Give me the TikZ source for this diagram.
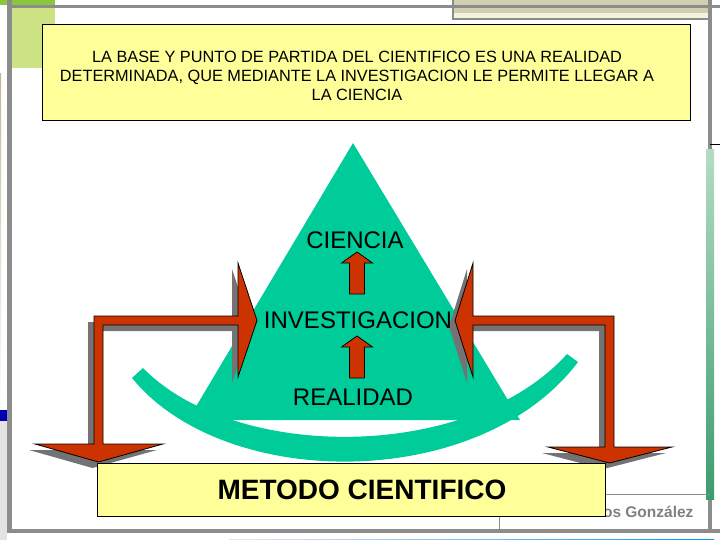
\documentclass[tikz,border=0pt]{standalone}
\usepackage{fontspec}
\setmainfont{Liberation Sans}
\usepackage{xcolor}
\usetikzlibrary{positioning}

\definecolor{pyrgreen}{HTML}{00CC99}
\definecolor{arrowred}{HTML}{CC3300}
\definecolor{notey}{HTML}{FFFF99}
\definecolor{framegray}{HTML}{8C8C8C}
\definecolor{leafgreen}{HTML}{8CC63F}
\definecolor{palegreen}{HTML}{CCE283}
\definecolor{tanband}{HTML}{C4B294}
\definecolor{creamtop}{HTML}{D2CEB0}
\definecolor{cream}{HTML}{F4F4DC}
\definecolor{stripetop}{HTML}{B4DCC4}
\definecolor{stripebot}{HTML}{3C9C6C}

% paths of the two bent block arrows
\newcommand{\bentleft}{(257,320.5) -- (238,377) -- (238,325) -- (103,325) -- (103,444) -- (163,444) -- (98.5,462) -- (35,444) -- (94,444) -- (94,316) -- (238,316) -- (238,263) -- cycle}
\newcommand{\bentright}{(455,320.5) -- (473,263) -- (473,316) -- (614,316) -- (614,447) -- (672,447) -- (609.5,463) -- (548,447) -- (605,447) -- (605,325) -- (473,325) -- (473,377) -- cycle}
% small upward block arrow: #1 = x of axis, #2 = y of bottom
\newcommand{\blockup}[2]{(#1-7.5,#2) -- (#1+7.5,#2) -- (#1+7.5,#2-31) -- (#1+15.5,#2-31) -- (#1,#2-42) -- (#1-15.5,#2-31) -- (#1-7.5,#2-31) -- cycle}

\begin{document}
\begin{tikzpicture}[x=1pt, y=-1pt]
	\tikzstyle{note} = [draw, fill=notey, inner sep=0pt]
	\tikzstyle{word} = [font=\fontsize{24}{24}\selectfont, inner sep=1pt]
	\tikzstyle{bent} = [draw, fill=arrowred, line width=0.8pt, line join=miter]
	\tikzstyle{shade} = [fill=gray!90!black, shift={(-6,6)}]
	\useasboundingbox (0,0) rectangle (720,540);

	% slide frame
	\fill[leafgreen] (0,0) rectangle (55,5);
	\fill[palegreen] (12,8) rectangle (55,68);
	\shade[top color=tanband, bottom color=white] (0,68) rectangle (7,405);
	\fill[blue!70!black] (0,410) rectangle (7,421);
	\fill[gray!22] (0,421) rectangle (7,540);
	\fill[creamtop] (453,0) rectangle (710,13);
	\fill[cream] (453,13) rectangle (710,19);
	\draw[framegray, line width=1.5pt] (453,0) |- (710,19);
	\fill[framegray] (12,5) rectangle (720,8);
	\fill[framegray] (7,0) rectangle (12,533);
	\fill[framegray] (708,0) rectangle (712,533);
	\shade[top color=stripetop, bottom color=stripebot] (712,144) rectangle (720,493);
	\draw[black] (710,144) -- (720,144);
	\fill[framegray] (7,529) rectangle (720,533);
	\shade[left color=violet!12, right color=cyan!60!blue] (235,533) rectangle (720,540);
	\draw[framegray, line width=1pt] (499,530) |- (710,494);
	\node[text=gray, font=\fontsize{15.5}{15.5}\selectfont\bfseries, anchor=base east] (firma) at (697,517) {os González};

	% triangle and arc
	\fill[pyrgreen] (353,143) -- (520,420) -- (188,420) -- cycle;
	\fill[pyrgreen] (132,378) .. controls (225,492) and (480,492) .. (578,362)
		-- (567,354) .. controls (470,462) and (235,462) .. (143,368) -- cycle;

	% bent arrows with shadow
	\fill[shade] \bentleft;
	\fill[shade] \bentright;
	\draw[bent] \bentleft;
	\draw[bent] \bentright;

	% labels
	\node[word] (ciencia) at (355,240) {CIENCIA};
	\node[word] (investigacion) at (358,320) {INVESTIGACION};
	\node[word] (realidad) at (353,397) {REALIDAD};
	\draw[bent] \blockup{357}{294};
	\draw[bent] \blockup{357}{378};

	% boxes
	\node[note, minimum width=648pt, minimum height=96pt] (base) at (366,72) {};
	\node[align=center, font=\fontsize{16.3}{19.2}\selectfont] (basetext) at (357,76)
		{LA BASE Y PUNTO DE PARTIDA DEL CIENTIFICO ES UNA REALIDAD\\ DETERMINADA, QUE MEDIANTE LA INVESTIGACION LE PERMITE LLEGAR A\\ LA CIENCIA};
	\node[note, minimum width=508pt, minimum height=53pt] (metodo) at (351,489.5) {};
	\node[font=\fontsize{28}{28}\selectfont\bfseries] (metodotext) at (362,490) {METODO CIENTIFICO};
\end{tikzpicture}
\end{document}
